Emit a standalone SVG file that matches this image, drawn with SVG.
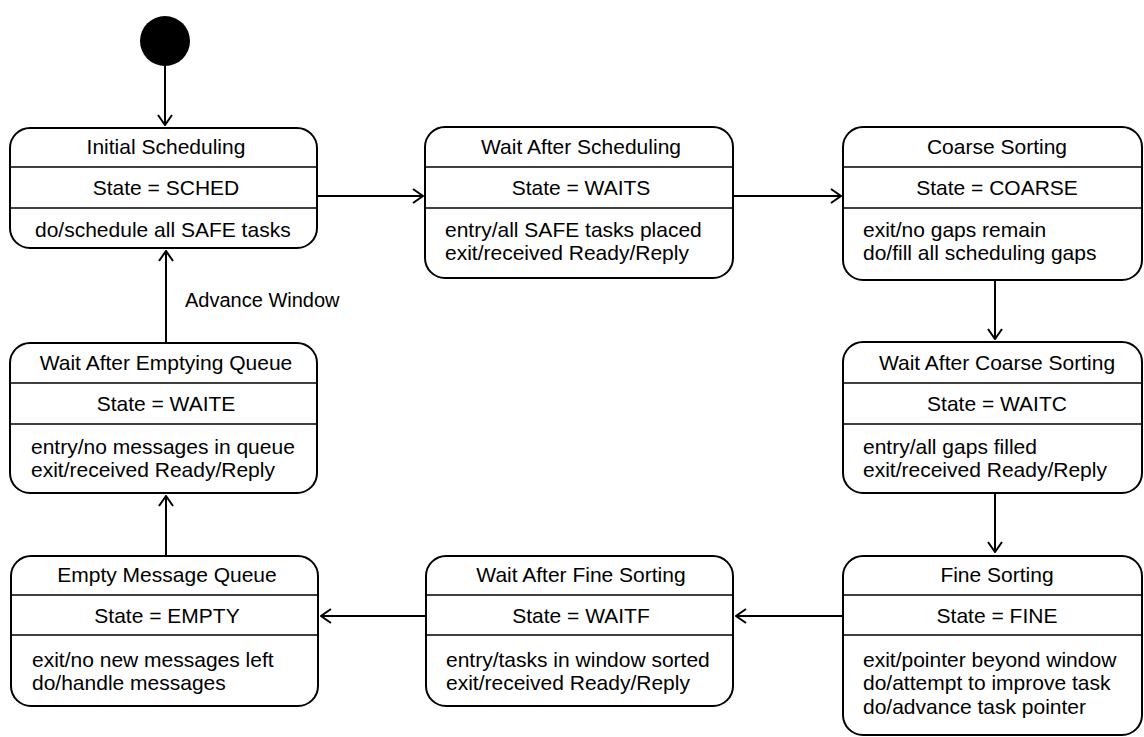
<svg xmlns="http://www.w3.org/2000/svg" width="1144" height="737" viewBox="0 0 1144 737">
  <style>
    .box { fill: #ffffff; stroke: #000000; stroke-width: 2; }
    .div { stroke: #000000; stroke-width: 1.6; }
    .t { font-family: "Liberation Sans", Arial, sans-serif; font-size: 21px; fill: #000000; }
    .c { text-anchor: middle; }
    .edge { fill: none; stroke: #000000; stroke-width: 2; marker-end: url(#open); }
  </style>
  <defs>
    <marker id="open" viewBox="0 0 12 16" refX="11" refY="8" markerWidth="12" markerHeight="16" markerUnits="userSpaceOnUse" orient="auto">
      <path d="M1,1 L11,8 L1,15" fill="none" stroke="#000000" stroke-width="2"/>
    </marker>
  </defs>
  <rect width="1144" height="737" fill="#ffffff"/>

  <!-- start pseudostate -->
  <g id="start">
    <circle cx="165" cy="41" r="25" fill="#000000"/>
  </g>

  <!-- transitions -->
  <g id="connectors">
    <line class="edge" x1="165" y1="66" x2="165" y2="125"/>
    <line class="edge" x1="317" y1="196" x2="423" y2="196"/>
    <line class="edge" x1="733" y1="196" x2="841" y2="196"/>
    <line class="edge" x1="995" y1="280" x2="995" y2="339"/>
    <line class="edge" x1="995" y1="493" x2="995" y2="552"/>
    <line class="edge" x1="843" y1="616" x2="736" y2="616"/>
    <line class="edge" x1="426" y1="616" x2="321" y2="616"/>
    <line class="edge" x1="166" y1="556" x2="166" y2="496"/>
    <line class="edge" x1="166" y1="343" x2="166" y2="251"/>
    <text class="t" x="185" y="307" style="font-size:20px">Advance Window</text>
  </g>

  <g id="initial-scheduling">
    <rect class="box" x="10" y="128" width="307" height="120" rx="20" ry="20"/>
    <line class="div" x1="10" y1="167" x2="317" y2="167"/>
    <line class="div" x1="10" y1="208" x2="317" y2="208"/>
    <text class="t c" x="166" y="154">Initial Scheduling</text>
    <text class="t c" x="166" y="195">State = SCHED</text>
    <text class="t" x="35" y="237">do/schedule all SAFE tasks</text>
  </g>

  <g id="wait-after-scheduling">
    <rect class="box" x="425" y="127" width="308" height="151" rx="20" ry="20"/>
    <line class="div" x1="425" y1="167" x2="733" y2="167"/>
    <line class="div" x1="425" y1="208" x2="733" y2="208"/>
    <text class="t c" x="581" y="154">Wait After Scheduling</text>
    <text class="t c" x="581" y="195">State = WAITS</text>
    <text class="t" x="445" y="237">entry/all SAFE tasks placed</text>
    <text class="t" x="445" y="260">exit/received Ready/Reply</text>
  </g>

  <g id="coarse-sorting">
    <rect class="box" x="843" y="127" width="299" height="153" rx="20" ry="20"/>
    <line class="div" x1="843" y1="167" x2="1142" y2="167"/>
    <line class="div" x1="843" y1="208" x2="1142" y2="208"/>
    <text class="t c" x="997" y="154">Coarse Sorting</text>
    <text class="t c" x="997" y="195">State = COARSE</text>
    <text class="t" x="863" y="237">exit/no gaps remain</text>
    <text class="t" x="863" y="260">do/fill all scheduling gaps</text>
  </g>

  <g id="wait-after-emptying-queue">
    <rect class="box" x="10" y="343" width="307" height="150" rx="20" ry="20"/>
    <line class="div" x1="10" y1="383" x2="317" y2="383"/>
    <line class="div" x1="10" y1="424" x2="317" y2="424"/>
    <text class="t c" x="166" y="370">Wait After Emptying Queue</text>
    <text class="t c" x="166" y="411">State = WAITE</text>
    <text class="t" x="31" y="454">entry/no messages in queue</text>
    <text class="t" x="31" y="477">exit/received Ready/Reply</text>
  </g>

  <g id="wait-after-coarse-sorting">
    <rect class="box" x="843" y="342" width="299" height="151" rx="20" ry="20"/>
    <line class="div" x1="843" y1="383" x2="1142" y2="383"/>
    <line class="div" x1="843" y1="424" x2="1142" y2="424"/>
    <text class="t c" x="997" y="370">Wait After Coarse Sorting</text>
    <text class="t c" x="997" y="411">State = WAITC</text>
    <text class="t" x="863" y="454">entry/all gaps filled</text>
    <text class="t" x="863" y="477">exit/received Ready/Reply</text>
  </g>

  <g id="empty-message-queue">
    <rect class="box" x="11" y="556" width="307" height="150" rx="20" ry="20"/>
    <line class="div" x1="11" y1="595" x2="318" y2="595"/>
    <line class="div" x1="11" y1="635" x2="318" y2="635"/>
    <text class="t c" x="167" y="582">Empty Message Queue</text>
    <text class="t c" x="167" y="623">State = EMPTY</text>
    <text class="t" x="32" y="667">exit/no new messages left</text>
    <text class="t" x="32" y="690">do/handle messages</text>
  </g>

  <g id="wait-after-fine-sorting">
    <rect class="box" x="426" y="556" width="307" height="150" rx="20" ry="20"/>
    <line class="div" x1="426" y1="595" x2="733" y2="595"/>
    <line class="div" x1="426" y1="635" x2="733" y2="635"/>
    <text class="t c" x="581" y="582">Wait After Fine Sorting</text>
    <text class="t c" x="581" y="623">State = WAITF</text>
    <text class="t" x="446" y="667">entry/tasks in window sorted</text>
    <text class="t" x="446" y="690">exit/received Ready/Reply</text>
  </g>

  <g id="fine-sorting">
    <rect class="box" x="843" y="556" width="299" height="179" rx="20" ry="20"/>
    <line class="div" x1="843" y1="595" x2="1142" y2="595"/>
    <line class="div" x1="843" y1="635" x2="1142" y2="635"/>
    <text class="t c" x="997" y="582">Fine Sorting</text>
    <text class="t c" x="997" y="623">State = FINE</text>
    <text class="t" x="863" y="667">exit/pointer beyond window</text>
    <text class="t" x="863" y="690">do/attempt to improve task</text>
    <text class="t" x="863" y="714">do/advance task pointer</text>
  </g>
</svg>
